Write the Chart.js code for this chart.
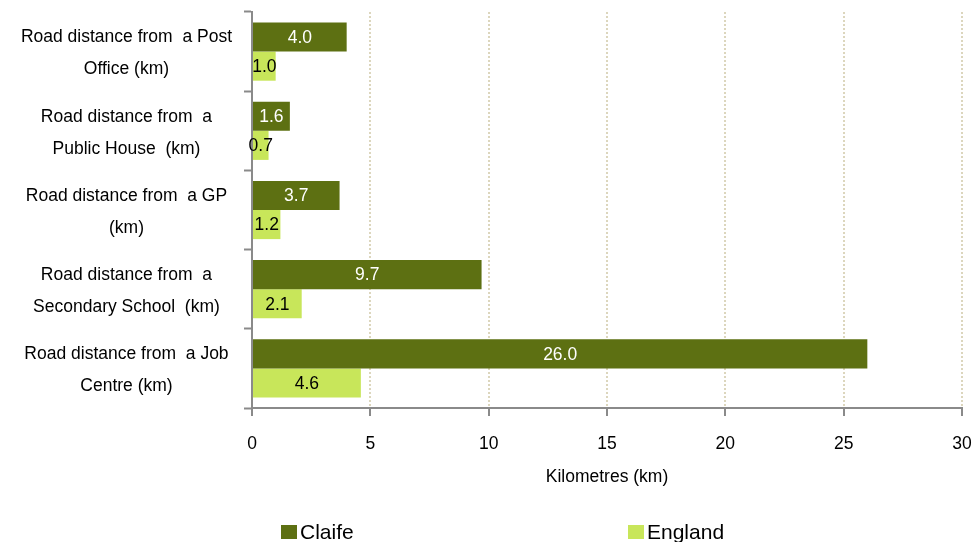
<!DOCTYPE html>
<html>
<head>
<meta charset="utf-8">
<script src="https://cdn.jsdelivr.net/npm/chart.js@4.4.1/dist/chart.umd.min.js"></script>
<style>
  html, body { margin: 0; padding: 0; background: #fff; }
  #wrap { position: relative; width: 973px; height: 542px; overflow: hidden; }
  #legend { position: absolute; left: 0; top: 520px; width: 973px; height: 30px;
            font-family: "Liberation Sans", Arial, sans-serif; font-size: 21px; color: #000; }
  .item { position: absolute; top: 0; display: flex; align-items: center; }
  .box { width: 16px; height: 14px; margin-right: 3px; }
</style>
</head>
<body>
<div id="wrap">
  <canvas id="chart" width="973" height="542"></canvas>
  <div id="legend"></div>
</div>
<script>
// Categories (y axis) and series values in km
var categories = [
    ['Road distance from  a Post', 'Office (km)'],
    ['Road distance from  a', 'Public House  (km)'],
    ['Road distance from  a GP', '(km)'],
    ['Road distance from  a', 'Secondary School  (km)'],
    ['Road distance from  a Job', 'Centre (km)']
];
var claifeValues = [4.0, 1.6, 3.7, 9.7, 26.0];
var englandValues = [1.0, 0.7, 1.2, 2.1, 4.6];
var xTicks = [0, 5, 10, 15, 20, 25, 30];

var seriesNames = ['Claife', 'England'];
var seriesColors = ['#5d7012', '#c8e65a'];
var labelColors = ['#ffffff', '#000000'];

var fontFamily = '"Liberation Sans", Arial, sans-serif';
var fontSize = 17.5;

// Draw value labels centred in each bar
var valueLabels = {
    id: 'valueLabels',
    afterDatasetsDraw: function(chart) {
        var ctx = chart.ctx;
        ctx.save();
        ctx.font = fontSize + 'px ' + fontFamily;
        ctx.textAlign = 'center';
        ctx.textBaseline = 'middle';
        chart.data.datasets.forEach(function(ds, i) {
            var meta = chart.getDatasetMeta(i);
            meta.data.forEach(function(bar, j) {
                ctx.fillStyle = labelColors[i];
                ctx.fillText(ds.data[j].toFixed(1), (bar.base + bar.x) / 2, bar.y + 1);
            });
        });
        ctx.restore();
    }
};

var ctx = document.getElementById('chart').getContext('2d');
var chart = new Chart(ctx, {
    type: 'bar',
    data: {
        labels: categories,
        datasets: [{
            label: seriesNames[0],
            data: claifeValues,
            backgroundColor: seriesColors[0],
            categoryPercentage: 0.735,
            barPercentage: 1.0
        }, {
            label: seriesNames[1],
            data: englandValues,
            backgroundColor: seriesColors[1],
            categoryPercentage: 0.735,
            barPercentage: 1.0
        }]
    },
    options: {
        indexAxis: 'y',
        responsive: false,
        animation: false,
        layout: { padding: { top: 12, right: 11, bottom: 50, left: 0 } },
        plugins: {
            legend: { display: false },
            tooltip: { enabled: false }
        },
        scales: {
            x: {
                min: 0,
                max: 30,
                afterBuildTicks: function(scale) {
                    scale.ticks = xTicks.map(function(v) { return { value: v }; });
                },
                afterFit: function(scale) {
                    scale.height = 84;
                    scale.paddingLeft = 0;
                    scale.paddingRight = 0;
                },
                grid: {
                    color: function(c) { return c.index === 0 ? 'rgba(0,0,0,0)' : '#dcd6bd'; },
                    lineWidth: 2,
                    tickColor: '#8a8a8a',
                    tickWidth: 2,
                    tickLength: 8
                },
                border: { color: '#8a8a8a', width: 2, dash: [2, 2] },
                ticks: {
                    color: '#000',
                    padding: 18,
                    font: { family: fontFamily, size: fontSize }
                },
                title: {
                    display: true,
                    text: 'Kilometres (km)',
                    color: '#000',
                    padding: { top: 0, bottom: 4 },
                    font: { family: fontFamily, size: fontSize }
                }
            },
            y: {
                afterFit: function(scale) {
                    scale.width = 252;
                    scale.paddingTop = 0;
                    scale.paddingBottom = 0;
                },
                grid: {
                    offset: true,
                    drawOnChartArea: false,
                    tickColor: '#8a8a8a',
                    tickWidth: 2,
                    tickLength: 8
                },
                border: { color: '#8a8a8a', width: 2 },
                ticks: {
                    color: '#000',
                    padding: 12,
                    labelOffset: 2,
                    crossAlign: 'center',
                    font: { family: fontFamily, size: fontSize, lineHeight: 1.83 }
                }
            }
        }
    },
    plugins: [valueLabels]
});

// Legend built from the datasets
var legendLeft = [281, 628];
var legend = document.getElementById('legend');
chart.data.datasets.forEach(function(ds, i) {
    var item = document.createElement('div');
    item.className = 'item';
    item.style.left = legendLeft[i] + 'px';
    item.innerHTML = '<span class="box" style="background:' + ds.backgroundColor + '"></span><span>' + ds.label + '</span>';
    legend.appendChild(item);
});
</script>
</body>
</html>
